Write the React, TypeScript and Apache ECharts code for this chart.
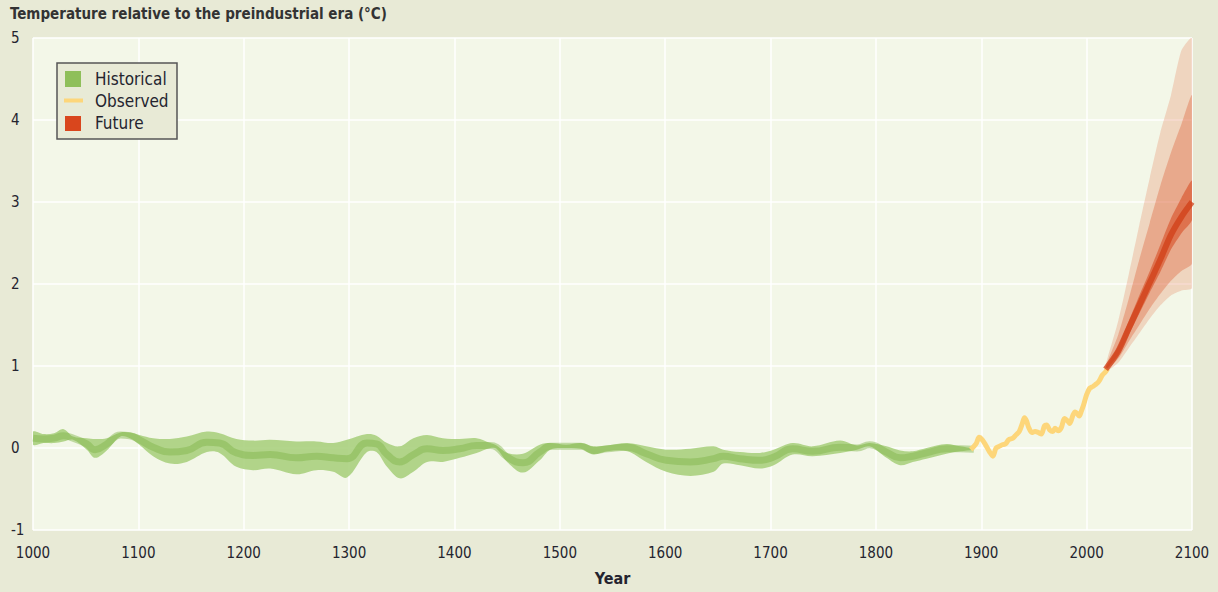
import React, { useEffect, useRef } from "react";
import * as echarts from "echarts";

// ---------- Data ----------
const histYears = [1000, 1010, 1020, 1029, 1038, 1051, 1059, 1070, 1083, 1092, 1101, 1114, 1130, 1146, 1165, 1177, 1193, 1209, 1225, 1250, 1269, 1285, 1298, 1317, 1326, 1336, 1348, 1361, 1374, 1389, 1405, 1421, 1434, 1440, 1450, 1465, 1481, 1491, 1506, 1520, 1532, 1545, 1564, 1582, 1601, 1624, 1646, 1655, 1671, 1690, 1703, 1721, 1740, 1766, 1782, 1794, 1810, 1823, 1835, 1848, 1867, 1880, 1893];
const histUpper = [0.2, 0.17, 0.18, 0.23, 0.14, 0.12, 0.11, 0.12, 0.19, 0.19, 0.16, 0.12, 0.11, 0.14, 0.2, 0.18, 0.11, 0.09, 0.1, 0.08, 0.08, 0.06, 0.1, 0.17, 0.15, 0.06, 0.02, 0.12, 0.16, 0.12, 0.11, 0.12, 0.06, 0.03, -0.06, -0.07, 0.04, 0.06, 0.04, 0.06, 0.02, 0.03, 0.06, 0.02, -0.02, -0.01, 0.02, -0.02, -0.05, -0.06, -0.02, 0.06, 0.02, 0.09, 0.03, 0.06, 0.02, -0.03, -0.04, 0.0, 0.05, 0.02, -0.01];
const histLower = [0.04, 0.06, 0.06, 0.08, 0.1, -0.02, -0.12, -0.03, 0.14, 0.12, 0.04, -0.1, -0.19, -0.17, -0.05, -0.06, -0.23, -0.27, -0.25, -0.32, -0.27, -0.29, -0.36, -0.05, -0.05, -0.23, -0.37, -0.29, -0.17, -0.17, -0.12, -0.06, 0.0, -0.01, -0.17, -0.3, -0.15, -0.02, 0.0, -0.01, -0.08, -0.04, -0.04, -0.17, -0.29, -0.34, -0.29, -0.19, -0.21, -0.25, -0.21, -0.08, -0.1, -0.06, -0.02, 0.02, -0.12, -0.21, -0.17, -0.13, -0.07, -0.04, -0.02];
const histCenter = [0.12, 0.11, 0.12, 0.15, 0.12, 0.05, -0.02, 0.05, 0.16, 0.15, 0.1, 0.01, -0.05, -0.03, 0.07, 0.06, -0.06, -0.09, -0.08, -0.12, -0.1, -0.12, -0.13, 0.06, 0.05, -0.08, -0.17, -0.08, -0.01, -0.03, -0.01, 0.03, 0.03, 0.01, -0.11, -0.18, -0.05, 0.02, 0.02, 0.02, -0.03, -0.01, 0.01, -0.07, -0.15, -0.17, -0.13, -0.1, -0.13, -0.15, -0.11, -0.01, -0.04, 0.01, 0.0, 0.04, -0.05, -0.12, -0.1, -0.06, -0.01, -0.01, -0.015];

const obsYears = [1890, 1895, 1898, 1901, 1904, 1908, 1911, 1914, 1917, 1920, 1923, 1926, 1930, 1933, 1936, 1939, 1941, 1943, 1945, 1948, 1951, 1954, 1957, 1960, 1962, 1965, 1968, 1970, 1973, 1976, 1979, 1982, 1984, 1987, 1989, 1991, 1993, 1995, 1997, 2000, 2003, 2006, 2008, 2010, 2012, 2015, 2018, 2020];
const obsValues = [-0.02, 0.05, 0.13, 0.1, 0.04, -0.05, -0.1, 0.0, 0.02, 0.04, 0.05, 0.1, 0.12, 0.16, 0.2, 0.3, 0.37, 0.33, 0.25, 0.19, 0.2, 0.19, 0.17, 0.27, 0.28, 0.22, 0.2, 0.24, 0.21, 0.25, 0.36, 0.33, 0.3, 0.4, 0.44, 0.42, 0.39, 0.45, 0.52, 0.65, 0.73, 0.75, 0.77, 0.79, 0.82, 0.89, 0.93, 0.97];

const futYears = [2018, 2030, 2040, 2050, 2060, 2070, 2080, 2090, 2100];
const futCenter = [0.96, 1.18, 1.46, 1.74, 2.02, 2.3, 2.6, 2.82, 3.0];
const futLowOuter = [0.93, 1.04, 1.22, 1.4, 1.58, 1.74, 1.86, 1.92, 1.95];
const futLowMid = [0.94, 1.09, 1.3, 1.5, 1.7, 1.88, 2.04, 2.16, 2.25];
const futLowInner = [0.95, 1.13, 1.38, 1.64, 1.9, 2.15, 2.42, 2.62, 2.78];
const futHighInner = [0.98, 1.24, 1.55, 1.86, 2.16, 2.48, 2.8, 3.05, 3.26];
const futHighMid = [0.99, 1.38, 1.82, 2.3, 2.75, 3.2, 3.6, 3.95, 4.3];
const futHighOuter = [1.01, 1.55, 2.12, 2.72, 3.3, 3.85, 4.3, 4.85, 5.0];

const yearTicks = [1000, 1100, 1200, 1300, 1400, 1500, 1600, 1700, 1800, 1900, 2000, 2100];
const legendLabels = ["Historical", "Observed", "Future"];

const FONT = '"DejaVu Sans Condensed", "Liberation Sans Narrow", "DejaVu Sans", sans-serif';
const TEXT = "#24242f";
const GREEN = "#8fbf5a";
const YELLOW = "#fdd67a";
const RED = "#d9461d";

// A filled band between two bounds, drawn as a polygon through the axis scales.
function band(name: string, xs: number[], lo: number[], hi: number[], color: string, opacity: number, z: number, smooth = 0.35) {
  return {
    type: "custom",
    name,
    coordinateSystem: "cartesian2d",
    clip: true,
    silent: true,
    z,
    data: [[xs[0], lo[0]]],
    renderItem: (_params: any, api: any) => {
      const top = xs.map((x, i) => api.coord([x, hi[i]]));
      const bottom = xs.map((x, i) => api.coord([x, lo[i]])).reverse();
      return {
        type: "polygon",
        shape: { points: top.concat(bottom), smooth },
        style: { fill: color, opacity },
      };
    },
  };
}

export default function App() {
  const ref = useRef<HTMLDivElement>(null);
  useEffect(() => {
    if (!ref.current) return;
    const chart = echarts.init(ref.current, null, { renderer: "svg" });
    const legendZ = 100;
    const option: any = {
      animation: false,
      backgroundColor: "transparent",
      title: {
        text: "Temperature relative to the preindustrial era (°C)",
        left: 5,
        top: 1,
        textStyle: { fontFamily: FONT, fontSize: 15, fontWeight: "bold", color: "#333" },
      },
      grid: {
        left: 33,
        right: 26,
        top: 38,
        bottom: 62,
        show: true,
        backgroundColor: "#f3f7e8",
        borderWidth: 0,
      },
      xAxis: {
        type: "value",
        min: 1000,
        max: 2100,
        interval: 100,
        name: "Year",
        nameLocation: "middle",
        nameGap: 40,
        nameTextStyle: { fontFamily: FONT, fontSize: 16, fontWeight: "bold", color: TEXT },
        axisLine: { show: false },
        axisTick: { show: false },
        axisLabel: {
          margin: 15,
          fontFamily: FONT,
          fontSize: 15,
          color: TEXT,
          formatter: (v: number) => (yearTicks.includes(v) ? String(v) : ""),
        },
        splitLine: { show: true, lineStyle: { color: "#ffffff", width: 1.5 } },
      },
      yAxis: {
        type: "value",
        min: -1,
        max: 5,
        interval: 1,
        axisLine: { show: false },
        axisTick: { show: false },
        axisLabel: { align: "left", margin: 22, fontFamily: FONT, fontSize: 15, color: TEXT },
        splitLine: { show: true, lineStyle: { color: "#ffffff", width: 1.5 } },
      },
      series: [
        band("Historical range", histYears, histLower, histUpper, "#a5ce78", 0.85, 2),
        {
          type: "line",
          name: "Historical",
          data: histYears.map((x, i) => [x, histCenter[i]]),
          symbol: "none",
          smooth: 0.5,
          lineStyle: { color: "#7fb446", width: 7, opacity: 0.45 },
          silent: true,
          z: 3,
        },
        band("Future outer", futYears, futLowOuter, futHighOuter, "#e0693f", 0.24, 4, 0.2),
        band("Future mid", futYears, futLowMid, futHighMid, "#dc5428", 0.34, 4, 0.2),
        band("Future inner", futYears, futLowInner, futHighInner, "#d6461b", 0.55, 4, 0.2),
        {
          type: "line",
          name: "Observed",
          data: obsYears.map((x, i) => [x, obsValues[i]]),
          symbol: "none",
          smooth: 0.3,
          lineStyle: { color: YELLOW, width: 5 },
          silent: true,
          z: 5,
        },
        {
          type: "line",
          name: "Future",
          data: futYears.map((x, i) => [x, futCenter[i]]),
          symbol: "none",
          smooth: 0.3,
          lineStyle: { color: "#d03f17", width: 6, opacity: 0.75 },
          silent: true,
          z: 6,
        },
      ],
      graphic: [
        {
          type: "rect",
          z: legendZ,
          shape: { x: 57, y: 63, width: 120, height: 76 },
          style: { fill: "#e8ead6", stroke: "#555555", lineWidth: 1.5 },
        },
        { type: "rect", z: legendZ + 1, shape: { x: 65, y: 71, width: 16, height: 16 }, style: { fill: GREEN } },
        { type: "line", z: legendZ + 1, shape: { x1: 64, y1: 100.5, x2: 83, y2: 100.5 }, style: { stroke: YELLOW, lineWidth: 4 } },
        { type: "rect", z: legendZ + 1, shape: { x: 65, y: 116, width: 16, height: 15 }, style: { fill: RED } },
        ...legendLabels.map((t, i) => ({
          type: "text",
          z: legendZ + 1,
          x: 95,
          y: 78.5 + i * 22,
          style: {
            text: t,
            fill: TEXT,
            font: `17px ${FONT}`,
            verticalAlign: "middle",
            align: "left",
          },
        })),
      ],
    };
    chart.setOption(option);
    return () => chart.dispose();
  }, []);

  return (
    <div style={{ position: "fixed", left: 0, top: 0, width: 1218, height: 592, background: "#e8ead6" }}>
      <div ref={ref} style={{ width: 1218, height: 592 }} />
    </div>
  );
}
